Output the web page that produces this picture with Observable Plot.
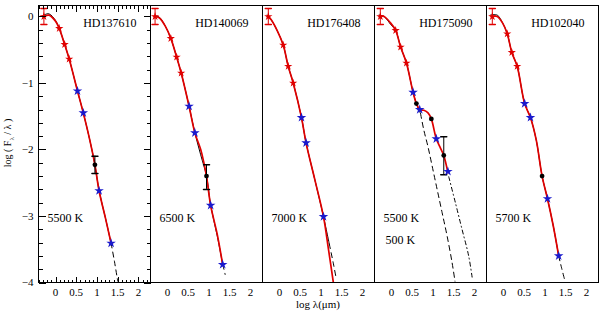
<!DOCTYPE html>
<html><head><meta charset="utf-8">
<script src="https://cdn.jsdelivr.net/npm/d3@7"></script>
<script src="https://cdn.jsdelivr.net/npm/@observablehq/plot@0.6"></script>
<style>
body{margin:0;background:#fff;}
#wrap{position:relative;width:600px;height:312px;font-family:"Liberation Serif",serif;color:#000;}
#ytitle{position:absolute;left:9px;top:143px;transform:translate(-50%,-50%) rotate(-90deg);font-size:10px;white-space:nowrap;}
#xtitle{position:absolute;left:318px;top:304px;transform:translate(-50%,-50%);font-size:11px;white-space:nowrap;}
</style></head><body>
<div id="wrap"><div id="ytitle">log ( F<sub style="font-size:7px">λ</sub> / λ )</div><div id="xtitle">log λ(μm)</div></div>
<script>
// ---- data ----
const panels = [0, 1, 2, 3, 4];
const starNames = ["HD137610", "HD140069", "HD176408", "HD175090", "HD102040"];
const starTemps = ["5500 K", "6500 K", "7000 K", "5500 K", "5700 K"];
const dustTemps = [[3, "500 K"]];

// [panel, log lambda, log flux]
const opticalPts = [
  [0,-0.28,0.00],[0,0.09,-0.18],[0,0.22,-0.42],[0,0.33,-0.64],
  [1,-0.30,0.00],[1,0.08,-0.33],[1,0.22,-0.61],[1,0.33,-0.85],
  [2,-0.27,0.00],[2,0.09,-0.43],[2,0.21,-0.75],[2,0.33,-1.00],
  [3,-0.27,0.00],[3,0.10,-0.21],[3,0.22,-0.46],[3,0.36,-0.70],
  [4,-0.27,0.00],[4,0.09,-0.26],[4,0.20,-0.54],[4,0.33,-0.75]
];
const infraredPts = [
  [0,0.53,-1.12],[0,0.67,-1.45],[0,1.05,-2.62],[0,1.34,-3.41],
  [1,0.52,-1.35],[1,0.66,-1.75],[1,1.04,-2.84],[1,1.33,-3.73],
  [2,0.53,-1.52],[2,0.64,-1.90],[2,1.06,-3.01],
  [3,0.52,-1.14],[3,0.68,-1.40],[3,1.08,-1.84],[3,1.36,-2.33],
  [4,0.51,-1.31],[4,0.65,-1.52],[4,1.06,-2.74],[4,1.33,-3.60]
];
const otherPts = [
  [0,0.95,-2.23],[1,0.94,-2.40],
  [3,0.60,-1.31],[3,0.96,-1.54],[3,1.26,-2.09],
  [4,0.93,-2.40]
];
// [panel, log lambda, low, high]
const opticalErr = [[0,-0.28,-0.12,0.12],[1,-0.30,-0.12,0.12],[2,-0.27,-0.12,0.12],[3,-0.27,-0.12,0.12],[4,-0.27,-0.12,0.12]];
const otherErr = [[0,0.95,-2.36,-2.10],[1,0.94,-2.60,-2.23],[3,1.26,-2.38,-1.81]];

// photosphere model (solid part)
const modelCurve = [
  [0,-0.32,0.01],[0,-0.16,0.04],[0,0.00,-0.06],[0,0.09,-0.18],[0,0.22,-0.42],[0,0.33,-0.64],[0,0.53,-1.12],[0,0.67,-1.45],[0,0.82,-1.84],[0,0.95,-2.23],[0,1.05,-2.62],[0,1.20,-3.02],[0,1.34,-3.41],
  [1,-0.32,0.01],[1,-0.20,-0.01],[1,-0.05,-0.15],[1,0.08,-0.33],[1,0.22,-0.61],[1,0.33,-0.85],[1,0.52,-1.35],[1,0.66,-1.75],[1,0.80,-2.08],[1,0.94,-2.40],[1,1.04,-2.84],[1,1.20,-3.30],[1,1.33,-3.73],
  [2,-0.30,0.02],[2,-0.20,-0.05],[2,-0.05,-0.22],[2,0.09,-0.43],[2,0.21,-0.75],[2,0.33,-1.00],[2,0.53,-1.52],[2,0.64,-1.90],[2,0.85,-2.45],[2,1.06,-3.01],[2,1.20,-3.42],
  [3,-0.30,0.02],[3,-0.18,0.00],[3,-0.02,-0.12],[3,0.10,-0.21],[3,0.22,-0.46],[3,0.36,-0.70],[3,0.52,-1.14],[3,0.60,-1.31],[3,0.70,-1.46],
  [4,-0.32,0.02],[4,-0.15,0.02],[4,-0.02,-0.10],[4,0.09,-0.26],[4,0.20,-0.54],[4,0.33,-0.75],[4,0.51,-1.31],[4,0.65,-1.52],[4,0.79,-1.86],[4,0.93,-2.40],[4,1.06,-2.74],[4,1.20,-3.15],[4,1.33,-3.60]
];
// photosphere model (dashed continuation)
const modelTail = [
  [0,1.34,-3.41],[0,1.42,-3.68],[0,1.50,-3.98],
  [1,1.33,-3.73],[1,1.36,-3.80],[1,1.39,-3.88],
  [2,1.20,-3.42],[2,1.30,-3.72],[2,1.37,-3.95],
  [3,0.70,-1.46],[3,0.78,-1.71],[3,0.88,-1.96],[3,0.98,-2.25],[3,1.10,-2.60],[3,1.22,-2.95],[3,1.34,-3.30],[3,1.46,-3.70],[3,1.53,-3.98],
  [4,1.33,-3.60],[4,1.40,-3.78],[4,1.47,-3.95]
];
// dust shell (dash-dot)
const dustCurve = [[3,1.38,-2.41],[3,1.54,-2.80],[3,1.70,-3.20],[3,1.86,-3.60],[3,1.95,-3.95]];
// total fit (red)
const fitCurve = [
  [0,-0.28,0.00],[0,-0.16,0.02],[0,0.00,-0.07],[0,0.09,-0.18],[0,0.22,-0.42],[0,0.33,-0.64],[0,0.53,-1.12],[0,0.67,-1.45],[0,0.82,-1.84],[0,0.95,-2.23],[0,1.05,-2.62],[0,1.20,-3.02],[0,1.34,-3.41],
  [1,-0.30,0.00],[1,-0.20,-0.02],[1,-0.05,-0.15],[1,0.08,-0.33],[1,0.22,-0.61],[1,0.33,-0.85],[1,0.52,-1.35],[1,0.66,-1.75],[1,0.80,-2.00],[1,0.87,-2.18],[1,0.94,-2.40],[1,1.04,-2.84],[1,1.20,-3.28],[1,1.33,-3.73],
  [2,-0.27,0.00],[2,-0.20,-0.05],[2,-0.05,-0.22],[2,0.09,-0.43],[2,0.21,-0.75],[2,0.33,-1.00],[2,0.53,-1.52],[2,0.64,-1.90],[2,0.85,-2.45],[2,1.06,-3.01],[2,1.18,-3.50],[2,1.31,-4.05],
  [3,-0.27,0.00],[3,-0.18,0.00],[3,-0.02,-0.10],[3,0.10,-0.21],[3,0.22,-0.46],[3,0.36,-0.70],[3,0.52,-1.14],[3,0.60,-1.31],[3,0.68,-1.40],[3,0.78,-1.41],[3,0.88,-1.45],[3,0.96,-1.54],[3,1.08,-1.84],[3,1.18,-1.98],[3,1.26,-2.09],[3,1.36,-2.35],
  [4,-0.27,0.00],[4,-0.15,0.00],[4,-0.02,-0.10],[4,0.09,-0.26],[4,0.20,-0.54],[4,0.33,-0.75],[4,0.51,-1.31],[4,0.65,-1.52],[4,0.79,-1.86],[4,0.93,-2.40],[4,1.06,-2.74],[4,1.20,-3.15],[4,1.33,-3.60]
];
const xTickLabels = [0, 0.5, 1, 1.5, 2];
const yTickLabels = [0, -1, -2, -3, -4];

// ---- drawing ----
const rows = a => a.map(([p, x, y]) => ({p, x, y}));
const errRows = a => a.map(([p, x, lo, hi]) => ({p, x, lo, hi}));
const minorX = d3.range(-4, 23).map(i => i / 10);
const minorY = d3.range(-20, 1).map(i => i / 5);
const RED = "#e00000", BLUE = "#1a1acc";
const capShape = {draw(ctx, l) { ctx.moveTo(-l / 2, 0); ctx.lineTo(l / 2, 0); }};

const chart = Plot.plot({
  width: 600, height: 312,
  marginLeft: 38, marginRight: 2, marginTop: 5, marginBottom: 30,
  x: {domain: [-0.41, 2.29]},
  y: {domain: [-4, 0.165]},
  fx: {domain: panels, padding: 0, axis: null},
  style: {fontFamily: '"Liberation Serif", serif', fontSize: "11px", background: "white", color: "black"},
  marks: [
    Plot.axisX({ticks: xTickLabels, anchor: "bottom", tickSize: 0, tickPadding: 6, label: null, tickFormat: d => String(d)}),
    Plot.axisY({ticks: yTickLabels, anchor: "left", tickSize: 0, tickPadding: 5, label: null, tickFormat: d => d === 0 ? "0" : "−" + Math.abs(d)}),
    Plot.line(rows(modelCurve), {x: "x", y: "y", fx: "p", z: "p", stroke: "black", strokeWidth: 1, curve: "catmull-rom", clip: true}),
    Plot.line(rows(modelTail), {x: "x", y: "y", fx: "p", z: "p", stroke: "black", strokeWidth: 1, strokeDasharray: "5,4", curve: "catmull-rom", clip: true}),
    Plot.line(rows(dustCurve), {x: "x", y: "y", fx: "p", z: "p", stroke: "black", strokeWidth: 1, strokeDasharray: "4,3,1,3", curve: "catmull-rom", clip: true}),
    Plot.line(rows(fitCurve), {x: "x", y: "y", fx: "p", z: "p", stroke: RED, strokeWidth: 1.7, curve: "catmull-rom", clip: true}),
    Plot.ruleX(errRows(opticalErr), {x: "x", y1: "lo", y2: "hi", fx: "p", stroke: RED}),
    Plot.vector(errRows(opticalErr), {x: "x", y: "lo", fx: "p", length: 6, rotate: 0, anchor: "start", shape: capShape, stroke: RED}),
    Plot.vector(errRows(opticalErr), {x: "x", y: "hi", fx: "p", length: 6, rotate: 0, anchor: "start", shape: capShape, stroke: RED}),
    Plot.ruleX(errRows(otherErr), {x: "x", y1: "lo", y2: "hi", fx: "p", stroke: "black"}),
    Plot.vector(errRows(otherErr), {x: "x", y: "lo", fx: "p", length: 6, rotate: 0, anchor: "start", shape: capShape, stroke: "black"}),
    Plot.vector(errRows(otherErr), {x: "x", y: "hi", fx: "p", length: 6, rotate: 0, anchor: "start", shape: capShape, stroke: "black"}),
    Plot.dot(rows(opticalPts), {x: "x", y: "y", fx: "p", fill: RED, r: 2.6, symbol: "star"}),
    Plot.dot(rows(infraredPts), {x: "x", y: "y", fx: "p", fill: BLUE, r: 3, symbol: "star"}),
    Plot.dot(rows(otherPts), {x: "x", y: "y", fx: "p", fill: "black", r: 2.4}),
    Plot.text(starNames.map((name, p) => ({p, name})), {text: "name", fx: "p", frameAnchor: "top-right", textAnchor: "end", lineAnchor: "middle", dx: -14, dy: 18, fontSize: 12}),
    Plot.text(starTemps.map((t, p) => ({p, t})), {text: "t", fx: "p", frameAnchor: "bottom-left", textAnchor: "start", lineAnchor: "middle", dx: 9, dy: -64, fontSize: 12}),
    Plot.text(dustTemps.map(([p, t]) => ({p, t})), {text: "t", fx: "p", frameAnchor: "bottom-left", textAnchor: "start", lineAnchor: "middle", dx: 11, dy: -42, fontSize: 12}),
    Plot.frame({stroke: "black", fill: "none"})
  ]
});
document.getElementById("wrap").prepend(chart);

// ---- inward tick marks on every panel border, placed with the chart's own scales ----
(function addTicks() {
  const svg = chart.tagName.toLowerCase() === "svg" ? chart : chart.querySelector("svg");
  const sb = svg.getBoundingClientRect();
  const xs = chart.scale("x"), ys = chart.scale("y");
  const [xd0, xd1] = xs.domain, [yd0, yd1] = ys.domain;
  let frames = [...svg.querySelectorAll('[aria-label="frame"]')]
    .map(el => el.tagName.toLowerCase() === "rect" ? el : el.querySelector("rect")).filter(Boolean);
  const NS = "http://www.w3.org/2000/svg";
  const g = document.createElementNS(NS, "g");
  g.setAttribute("stroke", "black");
  g.setAttribute("stroke-width", "1");
  g.setAttribute("shape-rendering", "crispEdges");
  svg.appendChild(g);
  const line = (x1, y1, x2, y2) => {
    const l = document.createElementNS(NS, "line");
    l.setAttribute("x1", x1); l.setAttribute("y1", y1);
    l.setAttribute("x2", x2); l.setAttribute("y2", y2);
    g.appendChild(l);
  };
  frames.forEach(r => {
    const b = r.getBoundingClientRect();
    const L = b.left - sb.left, T = b.top - sb.top, W = b.width, H = b.height;
    const px = v => Math.round(L + (xs.apply(v) - xs.apply(xd0)) / (xs.apply(xd1) - xs.apply(xd0)) * W) + 0.5;
    const py = v => Math.round(T + (ys.apply(v) - ys.apply(yd1)) / (ys.apply(yd0) - ys.apply(yd1)) * H) + 0.5;
    const B = T + H, R = L + W;
    minorX.forEach(v => { const len = xTickLabels.includes(v) ? 6 : 3; const x = px(v); line(x, B, x, B - len); line(x, T, x, T + len); });
    minorY.forEach(v => { const len = yTickLabels.includes(v) ? 7 : 4; const y = py(v); line(L, y, L + len, y); line(R, y, R - len, y); });
  });
})();
</script>
</body></html>
